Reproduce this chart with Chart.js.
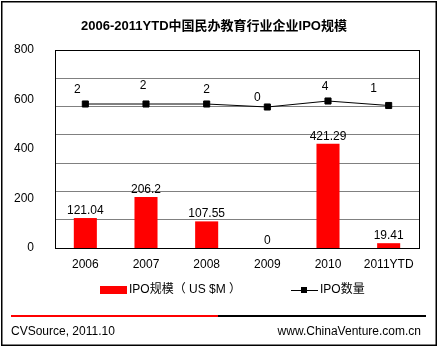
<!DOCTYPE html>
<html>
<head>
<meta charset="utf-8">
<script src="https://cdn.jsdelivr.net/npm/chart.js@4"></script>
<style>
  body { margin: 0; background: #fff; }
</style>
</head>
<body>
<canvas id="ipoChart" width="439" height="347"></canvas>
<script>
const years = ['2006', '2007', '2008', '2009', '2010', '2011YTD'];
const ipoSize = [121.04, 206.2, 107.55, 0, 421.29, 19.41];
const ipoCount = [2, 2, 2, 0, 4, 1];
const sizeTicks = [0, 200, 400, 600, 800];

// label nudges for the count labels (Excel put them a bit unevenly)
const countLabelShift = [[-8, -11], [-3, -15], [0, -11], [-10, -6], [-3, -11], [-15, -14]];

const FONT = "'Liberation Sans', 'Noto Sans CJK SC', sans-serif";
Chart.defaults.font.family = FONT;
Chart.defaults.font.size = 12;
Chart.defaults.color = '#000';

const decor = {
    id: 'decor',
    afterDatasetsDraw(chart) {
        const ctx = chart.ctx;
        const area = chart.chartArea;
        ctx.save();
        // plot frame
        ctx.strokeStyle = '#000';
        ctx.lineWidth = 1;
        ctx.strokeRect(Math.round(area.left) + 0.5, Math.round(area.top) + 0.5,
            Math.round(area.right - area.left), Math.round(area.bottom - area.top));

        ctx.font = '12px ' + FONT;
        ctx.fillStyle = '#000';
        ctx.textAlign = 'center';
        ctx.textBaseline = 'alphabetic';
        // bar labels
        chart.getDatasetMeta(0).data.forEach((bar, i) => {
            ctx.fillText(String(ipoSize[i]), bar.x, bar.y - 4);
        });
        // count labels
        chart.getDatasetMeta(1).data.forEach((pt, i) => {
            const s = countLabelShift[i];
            ctx.fillText(String(ipoCount[i]), pt.x + s[0], pt.y + s[1]);
        });
        ctx.restore();
    },
    afterDraw(chart) {
        const ctx = chart.ctx;
        ctx.save();
        // outer frame
        ctx.strokeStyle = '#000';
        ctx.lineWidth = 1.5;
        ctx.strokeRect(1.75, 1.75, 434.5, 343.5);

        // title
        ctx.fillStyle = '#000';
        ctx.font = 'bold 13px ' + FONT;
        ctx.textAlign = 'center';
        ctx.textBaseline = 'middle';
        ctx.fillText('2006-2011YTD中国民办教育行业企业IPO规模', 214, 26);

        // legend
        ctx.font = '12px ' + FONT;
        ctx.textAlign = 'left';
        ctx.fillStyle = '#FF0000';
        ctx.fillRect(100, 286, 27, 8);
        ctx.fillStyle = '#000';
        ctx.fillText('IPO规模（ US $M ）', 129, 290);
        ctx.beginPath();
        ctx.moveTo(291, 290.5);
        ctx.lineTo(318, 290.5);
        ctx.lineWidth = 1;
        ctx.stroke();
        ctx.fillRect(301, 287, 6, 6);
        ctx.fillText('IPO数量', 320, 290);

        // footer
        ctx.lineWidth = 2;
        ctx.strokeStyle = '#FF0000';
        ctx.beginPath();
        ctx.moveTo(11, 316);
        ctx.lineTo(218, 316);
        ctx.stroke();
        ctx.strokeStyle = '#000';
        ctx.beginPath();
        ctx.moveTo(218, 316);
        ctx.lineTo(426, 316);
        ctx.stroke();
        ctx.fillText('CVSource, 2011.10', 11, 332);
        ctx.textAlign = 'right';
        ctx.fillText('www.ChinaVenture.com.cn', 421, 332);
        ctx.restore();
    }
};

const ctx = document.getElementById('ipoChart').getContext('2d');
new Chart(ctx, {
    data: {
        labels: years,
        datasets: [{
            type: 'bar',
            label: 'IPO规模（US $M）',
            data: ipoSize,
            backgroundColor: '#FF0000',
            barPercentage: 0.38,
            categoryPercentage: 1,
            yAxisID: 'y',
            order: 2
        }, {
            type: 'line',
            label: 'IPO数量',
            data: ipoCount,
            borderColor: '#000',
            borderWidth: 1,
            pointStyle: 'rect',
            pointRadius: 4.3,
            pointBackgroundColor: '#000',
            pointBorderColor: '#000',
            tension: 0,
            yAxisID: 'y3',
            order: 1
        }]
    },
    options: {
        responsive: false,
        animation: false,
        devicePixelRatio: 1,
        layout: { padding: { left: 3, right: 20, top: 50, bottom: 74 } },
        plugins: {
            legend: { display: false },
            title: { display: false },
            tooltip: { enabled: false }
        },
        scales: {
            x: {
                grid: { display: false },
                border: { display: false },
                ticks: { padding: 1, maxRotation: 0, autoSkip: false },
                afterFit(scale) { scale.height = 25; }
            },
            y: {
                position: 'left',
                min: 0,
                max: 800,
                afterBuildTicks(scale) { scale.ticks = sizeTicks.map(v => ({ value: v })); },
                grid: { display: false },
                border: { display: false },
                ticks: { padding: 13 },
                afterFit(scale) { scale.width = 52; }
            },
            y2: {
                position: 'right',
                min: 0,
                max: 7,
                ticks: { display: false, stepSize: 1 },
                grid: { color: '#808080', drawTicks: false },
                border: { display: false },
                afterFit(scale) { scale.width = 0; }
            },
            y3: {
                display: false,
                min: -94,
                max: 38
            }
        }
    },
    plugins: [decor]
});
</script>
</body>
</html>
